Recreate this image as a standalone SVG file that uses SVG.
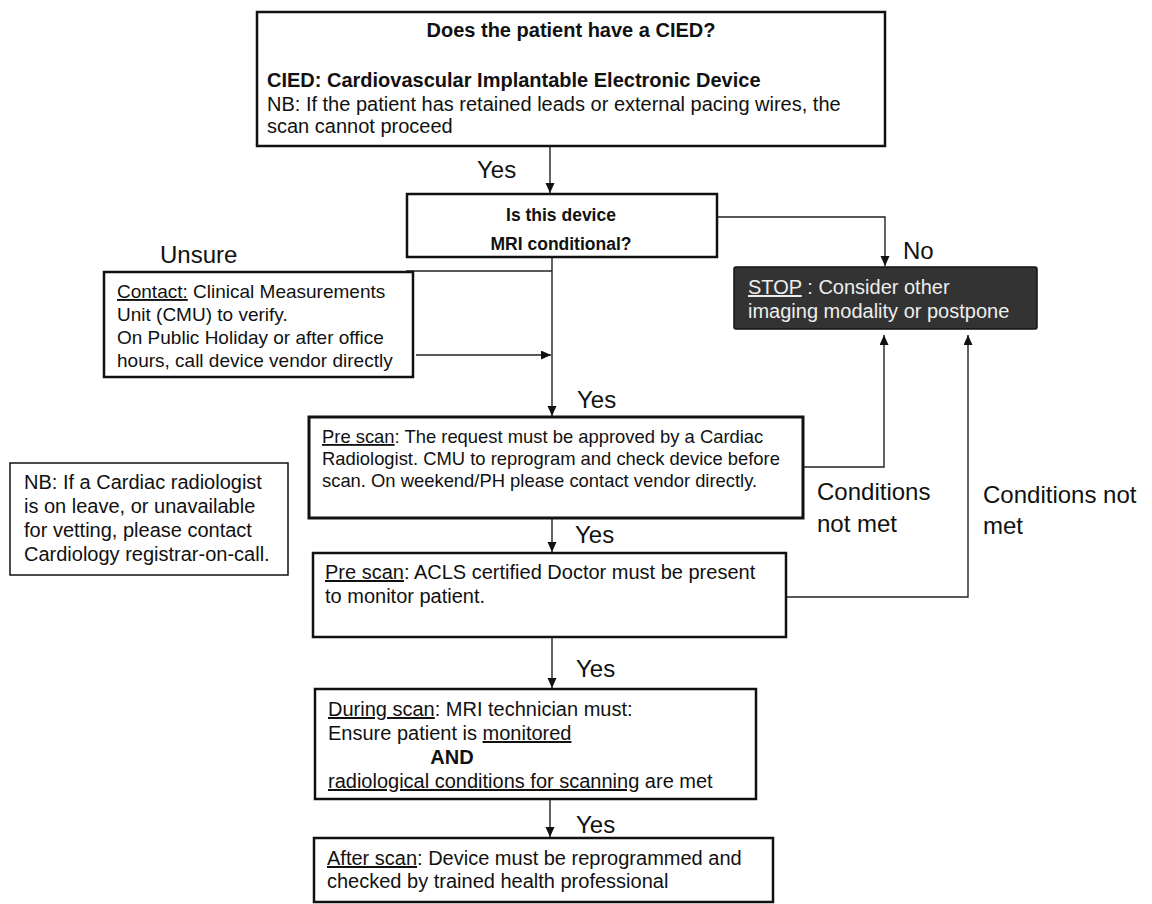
<svg xmlns="http://www.w3.org/2000/svg" width="1152" height="904" viewBox="0 0 1152 904">
<defs>
<style>
text{font-family:"Liberation Sans",Arial,Helvetica,sans-serif;fill:#111}
.box{fill:#fff;stroke:#111;stroke-width:2.5}
.thin{fill:#fff;stroke:#111;stroke-width:1.5}
.stop{fill:#333;stroke:#111;stroke-width:1.5}
.conn{fill:none;stroke:#222;stroke-width:1.4}
.lbl{font-size:24px}
.b{font-weight:bold}
.u{text-decoration:underline}
.w{fill:#eee}
</style>
<marker id="ah" markerUnits="userSpaceOnUse" markerWidth="10" markerHeight="10" refX="10" refY="4.5" orient="auto">
<path d="M0,0 L10,4.5 L0,9 z" fill="#111"/>
</marker>
</defs>
<rect width="1152" height="904" fill="#fff"/>

<g id="connectors">
<path class="conn" d="M550,147 V193" marker-end="url(#ah)"/>
<path class="conn" d="M717,217 H885 V266" marker-end="url(#ah)"/>
<path class="conn" d="M552,257 V416" marker-end="url(#ah)"/>
<path class="conn" d="M552,271 H407 V313" marker-end="url(#ah)"/>
<path class="conn" d="M416,355 H551" marker-end="url(#ah)"/>
<path class="conn" d="M552,519 V552" marker-end="url(#ah)"/>
<path class="conn" d="M552,638 V688" marker-end="url(#ah)"/>
<path class="conn" d="M550,800 V837" marker-end="url(#ah)"/>
<path class="conn" d="M803,467 H884 V335" marker-end="url(#ah)"/>
<path class="conn" d="M786,597 H968 V335" marker-end="url(#ah)"/>
</g>

<g id="labels">
<text class="lbl" x="477" y="178">Yes</text>
<text class="lbl" x="160" y="263">Unsure</text>
<text class="lbl" x="903" y="259">No</text>
<text class="lbl" x="577" y="408">Yes</text>
<text class="lbl" x="575" y="543">Yes</text>
<text class="lbl" x="576" y="677">Yes</text>
<text class="lbl" x="576" y="833">Yes</text>
<text class="lbl" x="817" y="500">Conditions</text>
<text class="lbl" x="817" y="532">not met</text>
<text class="lbl" x="983" y="503">Conditions not</text>
<text class="lbl" x="983" y="534">met</text>
</g>

<g id="n-cied">
<rect class="box" x="257" y="12" width="628" height="134"/>
<text class="b" x="571" y="37" font-size="20" text-anchor="middle">Does the patient have a CIED?</text>
<text class="b" x="267" y="87" font-size="20">CIED: Cardiovascular Implantable Electronic Device</text>
<text x="267" y="111" font-size="20">NB: If the patient has retained leads or external pacing wires, the</text>
<text x="267" y="133" font-size="20">scan cannot proceed</text>
</g>

<g id="n-conditional">
<rect class="box" x="407" y="194" width="310" height="63"/>
<text class="b" x="561" y="221" font-size="17.5" text-anchor="middle">Is this device</text>
<text class="b" x="561" y="250" font-size="17.5" text-anchor="middle">MRI conditional?</text>
</g>

<g id="n-stop">
<rect class="stop" x="734" y="267" width="303" height="62" rx="2"/>
<text class="w" x="748" y="294" font-size="20"><tspan class="u w">STOP</tspan> : Consider other</text>
<text class="w" x="748" y="318" font-size="20">imaging modality or postpone</text>
</g>

<g id="n-contact">
<rect class="box" x="104" y="272" width="309" height="105"/>
<text x="117" y="298" font-size="19"><tspan class="u">Contact:</tspan> Clinical Measurements</text>
<text x="117" y="321" font-size="19">Unit (CMU) to verify.</text>
<text x="117" y="344" font-size="19">On Public Holiday or after office</text>
<text x="117" y="367" font-size="19">hours, call device vendor directly</text>
</g>

<g id="n-nb">
<rect class="thin" x="10" y="463" width="278" height="112"/>
<text x="24" y="489" font-size="20">NB: If a Cardiac radiologist</text>
<text x="24" y="513" font-size="20">is on leave, or unavailable</text>
<text x="24" y="537" font-size="20">for vetting, please contact</text>
<text x="24" y="561" font-size="20">Cardiology registrar-on-call.</text>
</g>

<g id="n-prescan1">
<rect class="box" x="309" y="417" width="494" height="101" style="stroke-width:3"/>
<text x="322" y="443" font-size="18.4"><tspan class="u">Pre scan</tspan>: The request must be approved by a Cardiac</text>
<text x="322" y="465" font-size="18.4">Radiologist. CMU to reprogram and check device before</text>
<text x="322" y="487" font-size="18.4">scan. On weekend/PH please contact vendor directly.</text>
</g>

<g id="n-prescan2">
<rect class="box" x="313" y="553" width="473" height="84"/>
<text x="325" y="579" font-size="20"><tspan class="u">Pre scan</tspan>: ACLS certified Doctor must be present</text>
<text x="325" y="603" font-size="20">to monitor patient.</text>
</g>

<g id="n-during">
<rect class="box" x="315" y="689" width="441" height="110"/>
<text x="328" y="716" font-size="20"><tspan class="u">During scan</tspan>: MRI technician must:</text>
<text x="328" y="740" font-size="20">Ensure patient is <tspan class="u">monitored</tspan></text>
<text class="b" x="452" y="764" font-size="20" text-anchor="middle">AND</text>
<text x="328" y="788" font-size="20"><tspan class="u">radiological conditions for scanning</tspan> are met</text>
</g>

<g id="n-after">
<rect class="box" x="314" y="838" width="459" height="64"/>
<text x="327" y="865" font-size="20"><tspan class="u">After scan</tspan>: Device must be reprogrammed and</text>
<text x="327" y="888" font-size="20">checked by trained health professional</text>
</g>
</svg>
